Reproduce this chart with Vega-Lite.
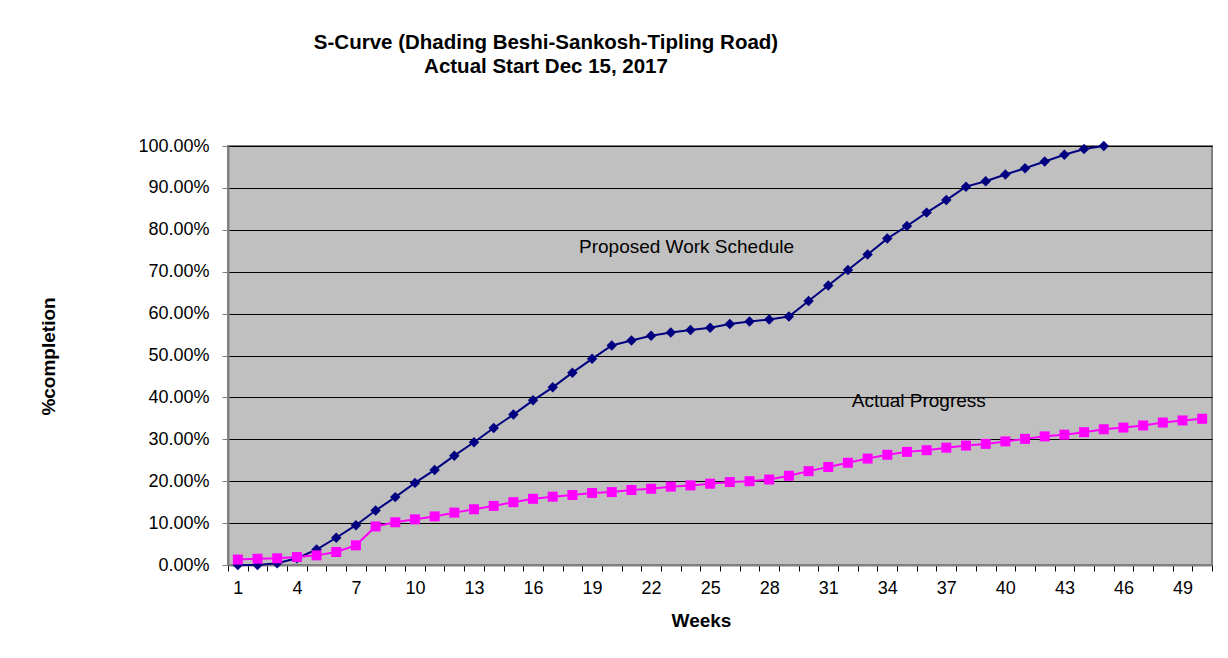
{
  "$schema": "https://vega.github.io/schema/vega-lite/v6.json",
  "width": 984,
  "height": 419,
  "autosize": {"type": "none"},
  "padding": {"left": 228, "top": 146, "right": 16, "bottom": 93},
  "background": "white",
  "title": {
    "text": ["S-Curve (Dhading Beshi-Sankosh-Tipling Road)", "Actual Start Dec 15, 2017"],
    "font": "Liberation Sans",
    "fontSize": 20.5,
    "fontWeight": "bold",
    "color": "black",
    "anchor": "middle",
    "frame": "group",
    "dx": -174,
    "offset": 60,
    "lineHeight": 24
  },
  "config": {
    "view": {"fill": "#C0C0C0", "stroke": "#808080", "strokeWidth": 2},
    "font": "Liberation Sans"
  },
  "datasets": {
    "series": [
      {"week": 1, "pct": 0.000, "series": "Proposed"},
      {"week": 2, "pct": 0.000, "series": "Proposed"},
      {"week": 3, "pct": 0.004, "series": "Proposed"},
      {"week": 4, "pct": 0.016, "series": "Proposed"},
      {"week": 5, "pct": 0.037, "series": "Proposed"},
      {"week": 6, "pct": 0.065, "series": "Proposed"},
      {"week": 7, "pct": 0.095, "series": "Proposed"},
      {"week": 8, "pct": 0.130, "series": "Proposed"},
      {"week": 9, "pct": 0.162, "series": "Proposed"},
      {"week": 10, "pct": 0.196, "series": "Proposed"},
      {"week": 11, "pct": 0.227, "series": "Proposed"},
      {"week": 12, "pct": 0.261, "series": "Proposed"},
      {"week": 13, "pct": 0.293, "series": "Proposed"},
      {"week": 14, "pct": 0.327, "series": "Proposed"},
      {"week": 15, "pct": 0.359, "series": "Proposed"},
      {"week": 16, "pct": 0.393, "series": "Proposed"},
      {"week": 17, "pct": 0.424, "series": "Proposed"},
      {"week": 18, "pct": 0.459, "series": "Proposed"},
      {"week": 19, "pct": 0.492, "series": "Proposed"},
      {"week": 20, "pct": 0.524, "series": "Proposed"},
      {"week": 21, "pct": 0.536, "series": "Proposed"},
      {"week": 22, "pct": 0.547, "series": "Proposed"},
      {"week": 23, "pct": 0.555, "series": "Proposed"},
      {"week": 24, "pct": 0.561, "series": "Proposed"},
      {"week": 25, "pct": 0.566, "series": "Proposed"},
      {"week": 26, "pct": 0.575, "series": "Proposed"},
      {"week": 27, "pct": 0.581, "series": "Proposed"},
      {"week": 28, "pct": 0.586, "series": "Proposed"},
      {"week": 29, "pct": 0.593, "series": "Proposed"},
      {"week": 30, "pct": 0.630, "series": "Proposed"},
      {"week": 31, "pct": 0.667, "series": "Proposed"},
      {"week": 32, "pct": 0.704, "series": "Proposed"},
      {"week": 33, "pct": 0.741, "series": "Proposed"},
      {"week": 34, "pct": 0.779, "series": "Proposed"},
      {"week": 35, "pct": 0.809, "series": "Proposed"},
      {"week": 36, "pct": 0.841, "series": "Proposed"},
      {"week": 37, "pct": 0.871, "series": "Proposed"},
      {"week": 38, "pct": 0.903, "series": "Proposed"},
      {"week": 39, "pct": 0.916, "series": "Proposed"},
      {"week": 40, "pct": 0.932, "series": "Proposed"},
      {"week": 41, "pct": 0.947, "series": "Proposed"},
      {"week": 42, "pct": 0.963, "series": "Proposed"},
      {"week": 43, "pct": 0.979, "series": "Proposed"},
      {"week": 44, "pct": 0.993, "series": "Proposed"},
      {"week": 45, "pct": 1.000, "series": "Proposed"},
      {"week": 1, "pct": 0.013, "series": "Actual"},
      {"week": 2, "pct": 0.015, "series": "Actual"},
      {"week": 3, "pct": 0.016, "series": "Actual"},
      {"week": 4, "pct": 0.019, "series": "Actual"},
      {"week": 5, "pct": 0.023, "series": "Actual"},
      {"week": 6, "pct": 0.031, "series": "Actual"},
      {"week": 7, "pct": 0.047, "series": "Actual"},
      {"week": 8, "pct": 0.092, "series": "Actual"},
      {"week": 9, "pct": 0.102, "series": "Actual"},
      {"week": 10, "pct": 0.109, "series": "Actual"},
      {"week": 11, "pct": 0.116, "series": "Actual"},
      {"week": 12, "pct": 0.125, "series": "Actual"},
      {"week": 13, "pct": 0.133, "series": "Actual"},
      {"week": 14, "pct": 0.141, "series": "Actual"},
      {"week": 15, "pct": 0.150, "series": "Actual"},
      {"week": 16, "pct": 0.158, "series": "Actual"},
      {"week": 17, "pct": 0.163, "series": "Actual"},
      {"week": 18, "pct": 0.167, "series": "Actual"},
      {"week": 19, "pct": 0.172, "series": "Actual"},
      {"week": 20, "pct": 0.174, "series": "Actual"},
      {"week": 21, "pct": 0.179, "series": "Actual"},
      {"week": 22, "pct": 0.182, "series": "Actual"},
      {"week": 23, "pct": 0.187, "series": "Actual"},
      {"week": 24, "pct": 0.190, "series": "Actual"},
      {"week": 25, "pct": 0.194, "series": "Actual"},
      {"week": 26, "pct": 0.198, "series": "Actual"},
      {"week": 27, "pct": 0.200, "series": "Actual"},
      {"week": 28, "pct": 0.204, "series": "Actual"},
      {"week": 29, "pct": 0.213, "series": "Actual"},
      {"week": 30, "pct": 0.224, "series": "Actual"},
      {"week": 31, "pct": 0.234, "series": "Actual"},
      {"week": 32, "pct": 0.244, "series": "Actual"},
      {"week": 33, "pct": 0.254, "series": "Actual"},
      {"week": 34, "pct": 0.263, "series": "Actual"},
      {"week": 35, "pct": 0.270, "series": "Actual"},
      {"week": 36, "pct": 0.274, "series": "Actual"},
      {"week": 37, "pct": 0.280, "series": "Actual"},
      {"week": 38, "pct": 0.285, "series": "Actual"},
      {"week": 39, "pct": 0.289, "series": "Actual"},
      {"week": 40, "pct": 0.295, "series": "Actual"},
      {"week": 41, "pct": 0.301, "series": "Actual"},
      {"week": 42, "pct": 0.307, "series": "Actual"},
      {"week": 43, "pct": 0.311, "series": "Actual"},
      {"week": 44, "pct": 0.317, "series": "Actual"},
      {"week": 45, "pct": 0.324, "series": "Actual"},
      {"week": 46, "pct": 0.328, "series": "Actual"},
      {"week": 47, "pct": 0.333, "series": "Actual"},
      {"week": 48, "pct": 0.340, "series": "Actual"},
      {"week": 49, "pct": 0.345, "series": "Actual"},
      {"week": 50, "pct": 0.349, "series": "Actual"}
    ],
    "labels": [
      {"week": 23.8, "pct": 0.759, "text": "Proposed Work Schedule"},
      {"week": 35.6, "pct": 0.392, "text": "Actual Progress"}
    ]
  },
  "data": {"name": "series"},
  "encoding": {
    "x": {
      "field": "week",
      "type": "quantitative",
      "scale": {"domain": [0.5, 50.5], "nice": false, "zero": false},
      "axis": {
        "title": "Weeks",
        "titleFont": "Liberation Sans",
        "titleFontSize": 19,
        "titleFontWeight": "bold",
        "titleColor": "black",
        "titleX": 473,
        "titleY": 55,
        "titleBaseline": "middle",
        "titleAlign": "center",
        "values": [0.5,1.5,2.5,3.5,4.5,5.5,6.5,7.5,8.5,9.5,10.5,11.5,12.5,13.5,14.5,15.5,16.5,17.5,18.5,19.5,20.5,21.5,22.5,23.5,24.5,25.5,26.5,27.5,28.5,29.5,30.5,31.5,32.5,33.5,34.5,35.5,36.5,37.5,38.5,39.5,40.5,41.5,42.5,43.5,44.5,45.5,46.5,47.5,48.5,49.5,50.5],
        "labelExpr": "((datum.value + 0.5 - 1) % 3 == 0 && datum.value < 50) ? '' + (datum.value + 0.5) : ''",
        "labelOffset": 9.84,
        "labelFont": "Liberation Sans",
        "labelFontSize": 18,
        "labelColor": "black",
        "labelPadding": 8,
        "labelOverlap": false,
        "labelFlush": false,
        "tickSize": 6,
        "tickColor": "#000000",
        "tickWidth": 1,
        "domainColor": "#808080",
        "domainWidth": 2,
        "grid": false
      }
    },
    "y": {
      "field": "pct",
      "type": "quantitative",
      "scale": {"domain": [0, 1], "nice": false},
      "axis": {
        "title": "%completion",
        "titleFont": "Liberation Sans",
        "titleFontSize": 19,
        "titleFontWeight": "bold",
        "titleColor": "black",
        "titleAngle": -90,
        "titleX": -180,
        "titleY": 210,
        "titleBaseline": "middle",
        "titleAlign": "center",
        "values": [0,0.1,0.2,0.3,0.4,0.5,0.6,0.7,0.8,0.9,1],
        "format": ".2%",
        "labelFont": "Liberation Sans",
        "labelFontSize": 18,
        "labelColor": "black",
        "labelPadding": 13,
        "labelFlush": false,
        "tickSize": 6,
        "tickColor": "#808080",
        "domainColor": "#808080",
        "domainWidth": 2,
        "grid": true,
        "gridColor": "#000000",
        "gridWidth": 1,
        "gridOpacity": 1
      }
    }
  },
  "layer": [
    {
      "transform": [{"filter": "datum.series == 'Proposed'"}],
      "mark": {"type": "line", "color": "#000080", "strokeWidth": 2,
               "point": {"shape": "diamond", "filled": true, "size": 110, "color": "#000080", "opacity": 1}}
    },
    {
      "transform": [{"filter": "datum.series == 'Actual'"}],
      "mark": {"type": "line", "color": "#FF00FF", "strokeWidth": 2,
               "point": {"shape": "square", "filled": true, "size": 100, "color": "#FF00FF", "opacity": 1}}
    },
    {
      "data": {"name": "labels"},
      "mark": {"type": "text", "font": "Liberation Sans", "fontSize": 19, "color": "black", "align": "center", "baseline": "middle"},
      "encoding": {"text": {"field": "text"}}
    }
  ]
}
